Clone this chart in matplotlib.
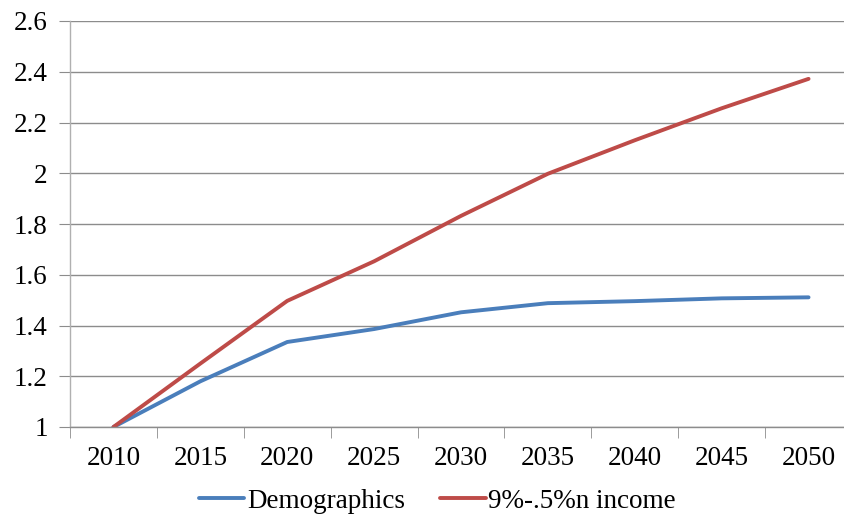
import matplotlib
matplotlib.use("Agg")
import matplotlib.pyplot as plt
import numpy as np

years = ["2010", "2015", "2020", "2025", "2030", "2035", "2040", "2045", "2050"]
demographics = [1.0, 1.18, 1.335, 1.386, 1.452, 1.488, 1.496, 1.507, 1.511]
income = [1.0, 1.25, 1.497, 1.653, 1.832, 1.998, 2.13, 2.256, 2.372]
yticks = [1, 1.2, 1.4, 1.6, 1.8, 2, 2.2, 2.4, 2.6]
ytick_labels = ["1", "1.2", "1.4", "1.6", "1.8", "2", "2.2", "2.4", "2.6"]

plt.rcParams["font.family"] = ["Liberation Serif", "DejaVu Serif"]

fig = plt.figure(figsize=(8.44, 5.18), dpi=100)
ax = fig.add_axes([70 / 844, 91 / 518, 782 / 844, 406 / 518])

x = np.arange(len(years))
ax.plot(x, demographics, color="#4a7ebb", lw=2.8, label="Demographics",
        solid_capstyle="round", solid_joinstyle="round")
ax.plot(x, income, color="#be4b48", lw=2.8, label="9%-.5%n income",
        solid_capstyle="round", solid_joinstyle="round")

ax.set_xlim(-0.5, len(years) - 0.5)
ax.set_ylim(1, 2.6)
ax.set_yticks(yticks)
ax.set_yticklabels(ytick_labels)
ax.set_xticks(x)
ax.set_xticklabels(years)
ax.set_xticks(np.arange(-0.5, len(years), 1.0), minor=True)

ax.yaxis.grid(True, color="#8c8c8c", lw=1.0)
ax.set_axisbelow(True)
for s in ["top", "right"]:
    ax.spines[s].set_visible(False)
ax.spines["left"].set_color("#b0b0b0")
ax.spines["bottom"].set_color("#8c8c8c")
ax.spines["left"].set_linewidth(1.0)
ax.spines["bottom"].set_linewidth(1.0)

ax.tick_params(axis="y", length=8, color="#8c8c8c", labelsize=19.5, pad=8)
ax.tick_params(axis="x", which="major", length=0, labelsize=19.5, pad=14)
ax.tick_params(axis="x", which="minor", length=8, color="#8c8c8c")

leg = ax.legend(loc="center", bbox_to_anchor=(0.47, -0.183), ncol=2,
                frameon=False, fontsize=19.5, handlelength=1.67,
                handletextpad=0.1, columnspacing=1.3, borderpad=0.2)

fig.savefig("out.png", dpi=100)
